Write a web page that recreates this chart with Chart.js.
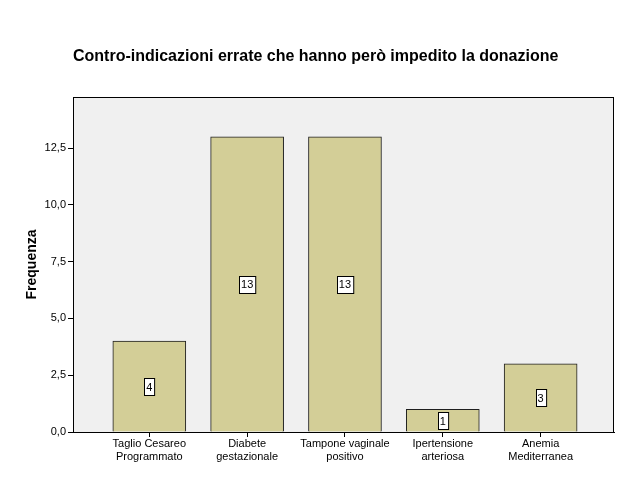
<!DOCTYPE html>
<html>
<head>
<meta charset="utf-8">
<script src="https://cdn.jsdelivr.net/npm/chart.js@4"></script>
<style>
  html, body { margin: 0; padding: 0; background: #fff; }
  #wrap { width: 629px; height: 504px; }
</style>
</head>
<body>
<div id="wrap"><canvas id="chart" width="629" height="504"></canvas></div>
<script>
const categories = [
    ['Taglio Cesareo', 'Programmato'],
    ['Diabete', 'gestazionale'],
    ['Tampone vaginale', 'positivo'],
    ['Ipertensione', 'arteriosa'],
    ['Anemia', 'Mediterranea']
];
const counts = [4, 13, 13, 1, 3];
const yTicks = [0, 2.5, 5, 7.5, 10, 12.5];
const chartTitle = 'Contro-indicazioni errate che hanno però impedito la donazione';

const FONT = 'Arial, "Liberation Sans", sans-serif';

// grey plot background + frame, like the SPSS output
const plotFrame = {
    id: 'plotFrame',
    beforeDatasetsDraw(chart) {
        const { ctx, chartArea: a } = chart;
        ctx.save();
        ctx.fillStyle = '#f0f0f0';
        ctx.fillRect(a.left, a.top, a.right - a.left, a.bottom - a.top);
        ctx.restore();
    },
    afterDraw(chart) {
        const { ctx, chartArea: a } = chart;
        ctx.save();
        ctx.strokeStyle = '#000';
        ctx.lineWidth = 1;
        ctx.strokeRect(a.left + 0.5, a.top + 0.5, a.right - a.left - 1, a.bottom - a.top);
        // title
        ctx.fillStyle = '#000';
        ctx.font = 'bold 16px ' + FONT;
        ctx.textBaseline = 'middle';
        ctx.textAlign = 'left';
        ctx.fillText(chartTitle, a.left, 57);
        ctx.restore();
    }
};

// value labels in small white boxes at half the bar height
const valueBoxes = {
    id: 'valueBoxes',
    afterDatasetsDraw(chart) {
        const { ctx } = chart;
        const meta = chart.getDatasetMeta(0);
        const yScale = chart.scales.y;
        ctx.save();
        ctx.font = '11px ' + FONT;
        ctx.textAlign = 'center';
        ctx.textBaseline = 'middle';
        meta.data.forEach((bar, i) => {
            const v = counts[i];
            const txt = String(v);
            const y = yScale.getPixelForValue(v / 2);
            const w = ctx.measureText(txt).width + 4;
            const h = 17;
            const x0 = Math.round(bar.x - w / 2) + 0.5;
            const y0 = Math.round(y - h / 2) + 0.5;
            ctx.fillStyle = '#fff';
            ctx.fillRect(x0, y0, w, h);
            ctx.strokeStyle = '#000';
            ctx.lineWidth = 1;
            ctx.strokeRect(x0, y0, w, h);
            ctx.fillStyle = '#000';
            ctx.fillText(txt, bar.x, y + 1);
        });
        ctx.restore();
    }
};

new Chart(document.getElementById('chart'), {
    type: 'bar',
    data: {
        datasets: [{
            label: 'Frequenza',
            data: counts.map((v, i) => ({ x: i, y: v })),
            backgroundColor: '#d3ce97',
            borderColor: '#1e1e1e',
            borderWidth: 1,
            barThickness: 73
        }]
    },
    options: {
        responsive: false,
        animation: false,
        layout: { padding: { top: 97, right: 15, left: 0, bottom: 0 } },
        plugins: {
            legend: { display: false },
            tooltip: { enabled: false },
            title: { display: false }
        },
        scales: {
            x: {
                type: 'linear',
                offset: false,
                min: -0.78,
                max: 4.75,
                afterBuildTicks: scale => {
                    scale.ticks = categories.map((c, i) => ({ value: i }));
                },
                afterFit: scale => { scale.height = 72; },
                ticks: {
                    autoSkip: false,
                    maxRotation: 0,
                    padding: 1,
                    color: '#000',
                    font: { family: FONT, size: 11, lineHeight: 1.15 },
                    callback: v => categories[v]
                },
                grid: { offset: false, drawOnChartArea: false, drawTicks: true, tickLength: 5, color: '#000' },
                border: { display: true, color: '#000' }
            },
            y: {
                min: 0,
                max: 14.75,
                afterBuildTicks: scale => {
                    scale.ticks = yTicks.map(v => ({ value: v }));
                },
                afterFit: scale => { scale.width = 73; },
                ticks: {
                    padding: 2,
                    color: '#000',
                    font: { family: FONT, size: 11 },
                    callback: v => v.toFixed(1).replace('.', ',')
                },
                grid: { drawOnChartArea: false, drawTicks: true, tickLength: 5, color: '#000' },
                border: { display: true, color: '#000' },
                title: {
                    display: true,
                    text: 'Frequenza',
                    color: '#000',
                    font: { family: FONT, size: 14, weight: 'bold' },
                    padding: { top: 24, bottom: 0 }
                }
            }
        }
    },
    plugins: [plotFrame, valueBoxes]
});
</script>
</body>
</html>
